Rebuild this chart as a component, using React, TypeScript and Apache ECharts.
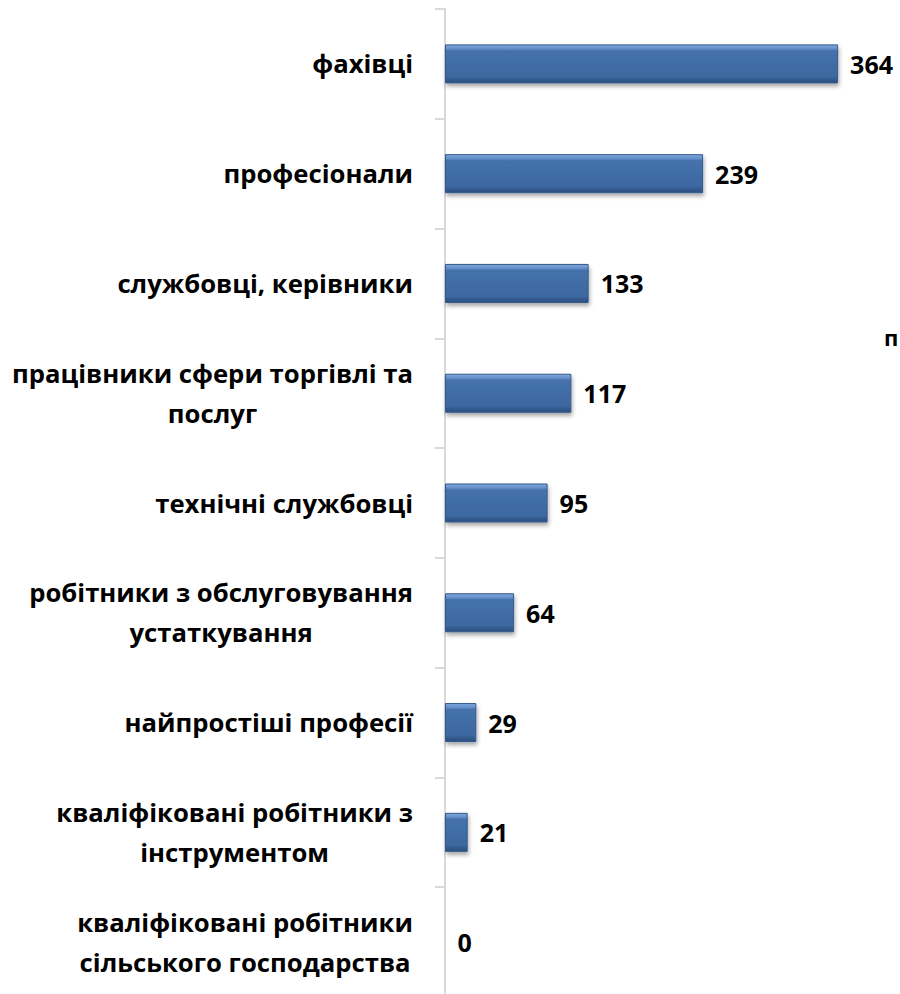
import React, { useEffect, useRef } from "react";
import * as echarts from "echarts";

const categories = [
  "фахівці",
  "професіонали",
  "службовці, керівники",
  "працівники сфери торгівлі та\nпослуг",
  "технічні службовці",
  "робітники з обслуговування\nустаткування",
  "найпростіші професії",
  "кваліфіковані робітники з\nінструментом",
  "кваліфіковані робітники\nсільського господарства",
];
const values = [364, 239, 133, 117, 95, 64, 29, 21, 0];
const xMax = 400;

const FONT = "'Open Sans', 'Noto Sans', sans-serif";

export default function App() {
  const ref = useRef<HTMLDivElement>(null);
  useEffect(() => {
    if (!ref.current) return;
    const chart = echarts.init(ref.current, undefined, { renderer: "svg" });
    chart.setOption({
      animation: false,
      backgroundColor: "#ffffff",
      grid: { left: 445, width: 432, top: 9, height: 988 },
      xAxis: {
        type: "value",
        min: 0,
        max: xMax,
        show: false,
      },
      yAxis: {
        type: "category",
        inverse: true,
        data: categories,
        axisLine: { show: true, lineStyle: { color: "#d9d9d9", width: 2 } },
        axisTick: { show: true, length: 10, lineStyle: { color: "#d9d9d9", width: 2 } },
        axisLabel: { show: false },
        splitLine: { show: false },
      },
      series: [
        {
          type: "bar",
          data: values,
          barWidth: 39,
          itemStyle: {
            color: new echarts.graphic.LinearGradient(0, 0, 0, 1, [
              { offset: 0, color: "#80a7db" },
              { offset: 0.1, color: "#6490ca" },
              { offset: 0.16, color: "#4571ab" },
              { offset: 0.84, color: "#3d68a0" },
              { offset: 0.9, color: "#335c91" },
              { offset: 1, color: "#2b4f7e" },
            ]),
            borderColor: "#34598a",
            borderWidth: 1,
            shadowColor: "rgba(0,0,0,0.35)",
            shadowBlur: 4,
            shadowOffsetX: 1,
            shadowOffsetY: 3,
          },
          label: {
            show: true,
            position: "right",
            distance: 12,
            fontFamily: FONT,
            fontWeight: "bold",
            fontSize: 25,
            color: "#000000",
          },
        },
      ],
    });

    const labelRight = 900 - 413;
    const labelGraphics = categories.map((c, i) => {
      const y = chart.convertToPixel({ yAxisIndex: 0 }, i) as number;
      return {
        type: "text",
        right: labelRight,
        y,
        style: {
          text: c,
          align: "center",
          verticalAlign: "middle",
          fontFamily: FONT,
          fontWeight: "bold",
          fontSize: 25.7,
          lineHeight: 40,
          fill: "#000000",
        },
      };
    });

    chart.setOption({
      graphic: [
        ...labelGraphics,
        {
          type: "text",
          left: 884,
          top: 326,
          style: {
            text: "п",
            fontFamily: FONT,
            fontWeight: "bold",
            fontSize: 22,
            fill: "#000000",
          },
        },
      ],
    });
    return () => chart.dispose();
  }, []);
  return (
    <div
      style={{
        position: "fixed",
        left: 0,
        top: 0,
        width: 900,
        height: 994,
        overflow: "hidden",
        background: "#fff",
      }}
    >
      <div ref={ref} style={{ width: 900, height: 1000 }} />
    </div>
  );
}
